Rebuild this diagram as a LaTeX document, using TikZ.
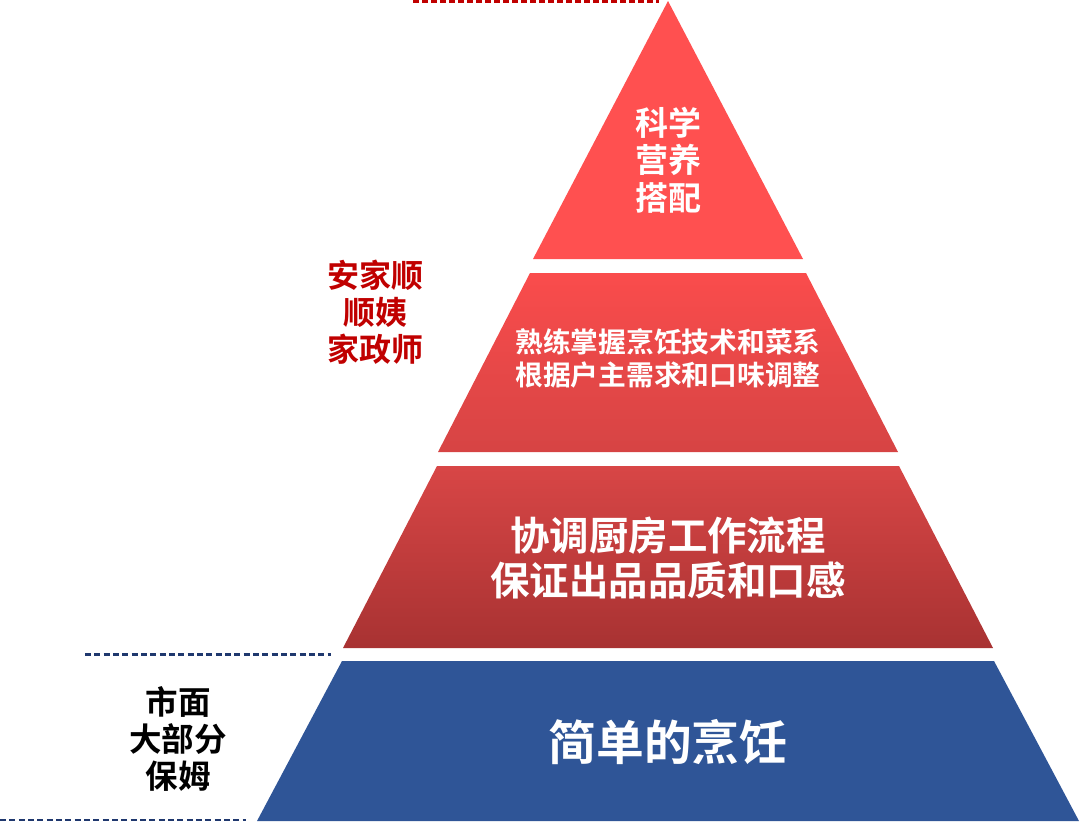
\documentclass[tikz,border=0pt]{standalone}
\usepackage{fontspec}
\setmainfont{Liberation Sans}
\newfontfamily\cjk{Noto Sans CJK SC}[BoldFont={* Bold}]
\definecolor{tone}{RGB}{255,80,80}
\definecolor{ttwoa}{RGB}{250,76,76}
\definecolor{ttwob}{RGB}{214,68,68}
\definecolor{tthreea}{RGB}{216,70,70}
\definecolor{tthreeb}{RGB}{168,50,50}
\definecolor{tblue}{RGB}{47,85,151}
\definecolor{darkred}{RGB}{192,0,0}
\definecolor{navy}{RGB}{31,56,110}
\tikzset{
  lbl/.style={inner sep=0pt, align=center, font=\cjk\bfseries},
  reddash/.style={draw=darkred, line width=2pt, dash pattern=on 4.5pt off 2.25pt},
  bluedash/.style={draw=navy, line width=1.8pt, dash pattern=on 4.5pt off 2.5pt},
}
\begin{document}
\begin{tikzpicture}[x=0.75pt,y=-0.75pt]
\useasboundingbox (0,0) rectangle (1080,821);
% pyramid layers
\fill[tone] (668,1) -- (803,259) -- (533,259) -- cycle;
\shade[top color=ttwoa, bottom color=ttwob] (530,273) -- (806,273) -- (898,452) -- (438,452) -- cycle;
\shade[top color=tthreea, bottom color=tthreeb] (437,466) -- (899,466) -- (993,648) -- (343,648) -- cycle;
\fill[tblue] (342,661) -- (994,661) -- (1079,821) -- (257,821) -- cycle;
% dashed guides
\coordinate (ra) at (413,1.2);
\coordinate (rb) at (659,1.2);
\draw[reddash] (ra) -- (rb);
\coordinate (ba) at (85,654.5);
\coordinate (bb) at (331,654.5);
\draw[bluedash] (ba) -- (bb);
\coordinate (ca) at (0,819.8);
\coordinate (cb) at (246,819.8);
\draw[bluedash] (ca) -- (cb);
% texts
\node[lbl, text=white, font=\cjk\bfseries\fontsize{24.75pt}{28.1pt}\selectfont] (t1) at (668,160) {科学\\营养\\搭配};
\node[lbl, text=white, font=\cjk\bfseries\fontsize{20.8pt}{24.75pt}\selectfont] (t2) at (668,358) {熟练掌握烹饪技术和菜系\\根据户主需求和口味调整};
\node[lbl, text=white, font=\cjk\bfseries\fontsize{29.6pt}{33.75pt}\selectfont] (t3) at (668,558) {协调厨房工作流程\\保证出品品质和口感};
\node[lbl, text=white, font=\cjk\bfseries\fontsize{35.8pt}{40pt}\selectfont] (t4) at (668,742) {简单的烹饪};
\node[lbl, text=darkred, font=\cjk\bfseries\fontsize{24pt}{27.75pt}\selectfont] (red) at (375,312) {安家顺\\顺姨\\家政师};
\node[lbl, text=black, font=\cjk\bfseries\fontsize{24.4pt}{28pt}\selectfont] (blk) at (178,739) {市面\\大部分\\保姆};
\end{tikzpicture}
\end{document}
